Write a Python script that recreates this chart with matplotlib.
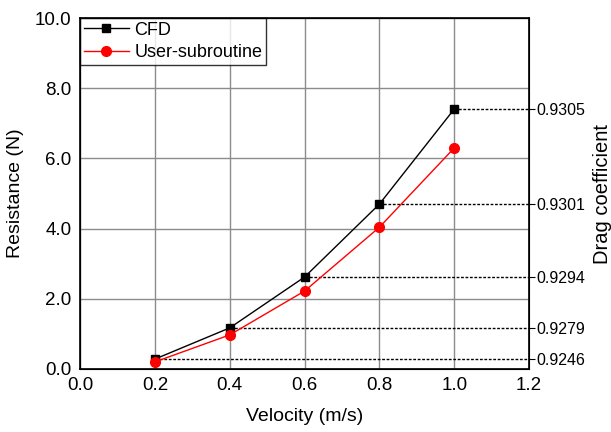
import matplotlib
matplotlib.use("Agg")
import matplotlib.pyplot as plt

plt.rcParams['font.family'] = ['Liberation Sans', 'DejaVu Sans']

# data
velocity = [0.2, 0.4, 0.6, 0.8, 1.0]
cfd = [0.28, 1.17, 2.62, 4.70, 7.41]
user_sub = [0.20, 0.97, 2.22, 4.04, 6.30]
drag_labels = ['0.9246', '0.9279', '0.9294', '0.9301', '0.9305']

fig = plt.figure(figsize=(6.11, 4.32), dpi=100)
ax = fig.add_axes([0.131, 0.146, 0.735, 0.812])

ax.plot(velocity, cfd, color='black', marker='s', markersize=6, linewidth=1.0, label='CFD', zorder=3)
ax.plot(velocity, user_sub, color='red', marker='o', markersize=7, linewidth=1.0, label='User-subroutine', zorder=3)

# dotted guide lines from CFD points to the right axis
for v, c in zip(velocity, cfd):
    ax.plot([v, 1.2], [c, c], color='black', linestyle=(0, (2, 1.2)), linewidth=1.0, zorder=2)

ax.set_xlim(0, 1.2)
ax.set_ylim(0, 10)
ax.set_xticks([0.0, 0.2, 0.4, 0.6, 0.8, 1.0, 1.2])
ax.set_yticks([0, 2, 4, 6, 8, 10])
ax.xaxis.set_major_formatter(matplotlib.ticker.FormatStrFormatter('%.1f'))
ax.yaxis.set_major_formatter(matplotlib.ticker.FormatStrFormatter('%.1f'))
ax.grid(True, color='#8c8c8c', linewidth=1.0)
ax.set_axisbelow(True)
ax.tick_params(axis='both', labelsize=13.5, length=0, pad=6)
for s in ax.spines.values():
    s.set_linewidth(1.2)
ax.set_xlabel('Velocity (m/s)', fontsize=14, labelpad=10)
ax.set_ylabel('Resistance (N)', fontsize=14, labelpad=8)

ax2 = ax.twinx()
ax2.set_ylim(0, 10)
ax2.set_yticks(cfd)
ax2.set_yticklabels(drag_labels)
ax2.tick_params(axis='y', labelsize=11.5, length=4, width=0.8, direction='out', pad=1)
ax2.set_ylabel('Drag coefficient', fontsize=14.5, labelpad=6)

leg = ax.legend(loc='upper left', fontsize=13, frameon=True, fancybox=False,
                edgecolor='black', borderaxespad=0, handlelength=2.5,
                borderpad=0.2, labelspacing=0.3, handletextpad=0.3)
leg.get_frame().set_linewidth(1.0)

fig.savefig('out.png', dpi=100)
